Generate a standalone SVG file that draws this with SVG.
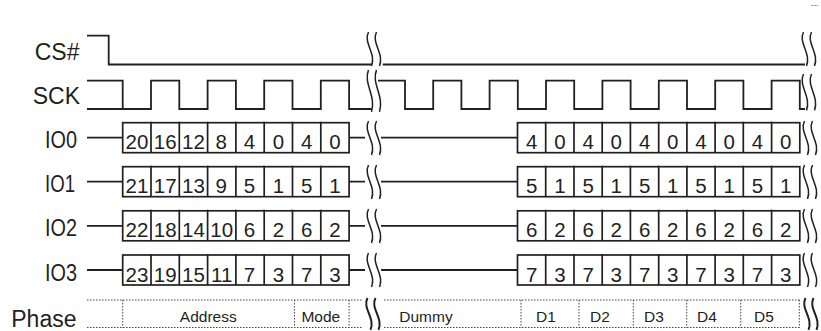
<svg xmlns="http://www.w3.org/2000/svg" xmlns:xlink="http://www.w3.org/1999/xlink" width="821" height="331" viewBox="0 0 821 331">
<style>
.lbl{font-family:"Liberation Sans",Arial,sans-serif;font-size:23px;fill:#231f20}
.dig{font-family:"Liberation Sans",Arial,sans-serif;font-size:20.5px;fill:#231f20;text-anchor:middle}
.ph{font-family:"Liberation Sans",Arial,sans-serif;font-size:15.5px;fill:#231f20;text-anchor:middle}
.w{fill:none;stroke:#231f20;stroke-width:1.8}
.box{fill:none;stroke:#231f20;stroke-width:1.7}
.dot{fill:none;stroke:#444;stroke-width:1;stroke-dasharray:1.5 1.5}
.brk{fill:none;stroke:#231f20;stroke-width:1.5}
.brkb{fill:none;stroke:#231f20;stroke-width:2}
</style>
<defs>
<g id="b">
<path d="M2.5,0 C-3,11 10.5,21 5.5,34"/>
<path d="M10.5,0 C5,11 18.5,21 13.5,34"/>
</g>
</defs>
<line x1="811.5" y1="5.5" x2="818.5" y2="5.5" stroke="#888" stroke-width="1" stroke-dasharray="2 1"/>

<g id="labels">
<text class="lbl" x="79.5" y="59.5" text-anchor="end">CS#</text>
<text class="lbl" x="80" y="104" text-anchor="end">SCK</text>
<text class="lbl" x="45" y="148" textLength="32" lengthAdjust="spacingAndGlyphs">IO0</text>
<text class="lbl" x="45" y="192" textLength="30" lengthAdjust="spacingAndGlyphs">IO1</text>
<text class="lbl" x="45" y="236.2" textLength="32" lengthAdjust="spacingAndGlyphs">IO2</text>
<text class="lbl" x="45" y="280.5" textLength="32" lengthAdjust="spacingAndGlyphs">IO3</text>
<text class="lbl" x="76.5" y="326.5" text-anchor="end">Phase</text>
</g>

<g id="cs">
<path class="w" d="M87,35.7 H108.7 V64.5 H371.7 M382.7,64.5 H805"/>
<g class="brk"><use xlink:href="#b" transform="translate(366,32)"/><use xlink:href="#b" transform="translate(801,32)"/></g>
</g>

<g id="sck">
<path class="w" d="M87,80.7 H122.7 V109 M87,109 H151 V80.7 H179.3 V109 H207.6 V80.7 H235.9 V109 H264.2 V80.7 H292.5 V109 H320.8 V80.7 H349.1 V109 H371.7"/>
<path class="w" d="M378,80.7 H405 V109 H433.2 V80.7 H461.4 V109 H489.6 V80.7 H517.8 V109 H546 V80.7 H574.2 V109 H602.4 V80.7 H630.6 V109 H658.8 V80.7 H687 V109 H715.2 V80.7 H743.4 V109 H771.6 V80.7 H799.8 V109 H805"/>
<g class="brk"><use xlink:href="#b" transform="translate(366,70) scale(1,1.23)"/><use xlink:href="#b" transform="translate(801,74) scale(1,1.07)"/></g>
</g>

<g id="io0">
<path class="w" d="M87,137.7 H122.7 M349.1,137.7 H365 M381,137.7 H517.5"/>
<rect class="box" x="122.7" y="122.7" width="226.4" height="30"/>
<path class="box" d="M151,121.7 V152.7 M179.3,121.7 V152.7 M207.6,121.7 V152.7 M235.9,121.7 V152.7 M264.2,121.7 V152.7 M292.5,121.7 V152.7 M320.8,121.7 V152.7"/>
<rect class="box" x="517.5" y="122.7" width="282.3" height="30"/>
<path class="box" d="M545.7,121.7 V152.7 M574,121.7 V152.7 M602.2,121.7 V152.7 M630.4,121.7 V152.7 M658.7,121.7 V152.7 M686.9,121.7 V152.7 M715.1,121.7 V152.7 M743.3,121.7 V152.7 M771.6,121.7 V152.7"/>
<g class="brk"><use xlink:href="#b" transform="translate(366,121)"/><use xlink:href="#b" transform="translate(802,121)"/></g>
<g>
<text class="dig" x="136.9" y="149.3">20</text><text class="dig" x="165.2" y="149.3">16</text><text class="dig" x="193.5" y="149.3">12</text><text class="dig" x="221.2" y="149.3">8</text><text class="dig" x="249.5" y="149.3">4</text><text class="dig" x="278.4" y="149.3">0</text><text class="dig" x="306.7" y="149.3">4</text><text class="dig" x="335" y="149.3">0</text>
<text class="dig" x="531.6" y="149.3">4</text><text class="dig" x="559.9" y="149.3">0</text><text class="dig" x="588.1" y="149.3">4</text><text class="dig" x="616.3" y="149.3">0</text><text class="dig" x="644.6" y="149.3">4</text><text class="dig" x="672.8" y="149.3">0</text><text class="dig" x="701" y="149.3">4</text><text class="dig" x="729.2" y="149.3">0</text><text class="dig" x="757.5" y="149.3">4</text><text class="dig" x="785.7" y="149.3">0</text>
</g>
</g>

<g id="io1">
<path class="w" d="M87,181.7 H122.7 M349.1,181.7 H365 M381,181.7 H517.5"/>
<rect class="box" x="122.7" y="166.7" width="226.4" height="30"/>
<path class="box" d="M151,165.7 V196.7 M179.3,165.7 V196.7 M207.6,165.7 V196.7 M235.9,165.7 V196.7 M264.2,165.7 V196.7 M292.5,165.7 V196.7 M320.8,165.7 V196.7"/>
<rect class="box" x="517.5" y="166.7" width="282.3" height="30"/>
<path class="box" d="M545.7,165.7 V196.7 M574,165.7 V196.7 M602.2,165.7 V196.7 M630.4,165.7 V196.7 M658.7,165.7 V196.7 M686.9,165.7 V196.7 M715.1,165.7 V196.7 M743.3,165.7 V196.7 M771.6,165.7 V196.7"/>
<g class="brk"><use xlink:href="#b" transform="translate(366,165)"/><use xlink:href="#b" transform="translate(802,165)"/></g>
<g>
<text class="dig" x="136.9" y="193.3">21</text><text class="dig" x="165.2" y="193.3">17</text><text class="dig" x="193.5" y="193.3">13</text><text class="dig" x="221.2" y="193.3">9</text><text class="dig" x="249.5" y="193.3">5</text><text class="dig" x="278.4" y="193.3">1</text><text class="dig" x="306.7" y="193.3">5</text><text class="dig" x="335" y="193.3">1</text>
<text class="dig" x="531.6" y="193.3">5</text><text class="dig" x="559.9" y="193.3">1</text><text class="dig" x="588.1" y="193.3">5</text><text class="dig" x="616.3" y="193.3">1</text><text class="dig" x="644.6" y="193.3">5</text><text class="dig" x="672.8" y="193.3">1</text><text class="dig" x="701" y="193.3">5</text><text class="dig" x="729.2" y="193.3">1</text><text class="dig" x="757.5" y="193.3">5</text><text class="dig" x="785.7" y="193.3">1</text>
</g>
</g>

<g id="io2">
<path class="w" d="M87,225.8 H122.7 M349.1,225.8 H365 M381,225.8 H517.5"/>
<rect class="box" x="122.7" y="210.8" width="226.4" height="30"/>
<path class="box" d="M151,209.8 V240.8 M179.3,209.8 V240.8 M207.6,209.8 V240.8 M235.9,209.8 V240.8 M264.2,209.8 V240.8 M292.5,209.8 V240.8 M320.8,209.8 V240.8"/>
<rect class="box" x="517.5" y="210.8" width="282.3" height="30"/>
<path class="box" d="M545.7,209.8 V240.8 M574,209.8 V240.8 M602.2,209.8 V240.8 M630.4,209.8 V240.8 M658.7,209.8 V240.8 M686.9,209.8 V240.8 M715.1,209.8 V240.8 M743.3,209.8 V240.8 M771.6,209.8 V240.8"/>
<g class="brk"><use xlink:href="#b" transform="translate(366,209)"/><use xlink:href="#b" transform="translate(802,209)"/></g>
<g>
<text class="dig" x="136.9" y="237.4">22</text><text class="dig" x="165.2" y="237.4">18</text><text class="dig" x="193.5" y="237.4">14</text><text class="dig" x="221.7" y="237.4">10</text><text class="dig" x="249.5" y="237.4">6</text><text class="dig" x="278.4" y="237.4">2</text><text class="dig" x="306.7" y="237.4">6</text><text class="dig" x="335" y="237.4">2</text>
<text class="dig" x="531.6" y="237.4">6</text><text class="dig" x="559.9" y="237.4">2</text><text class="dig" x="588.1" y="237.4">6</text><text class="dig" x="616.3" y="237.4">2</text><text class="dig" x="644.6" y="237.4">6</text><text class="dig" x="672.8" y="237.4">2</text><text class="dig" x="701" y="237.4">6</text><text class="dig" x="729.2" y="237.4">2</text><text class="dig" x="757.5" y="237.4">6</text><text class="dig" x="785.7" y="237.4">2</text>
</g>
</g>

<g id="io3">
<path class="w" d="M87,270 H122.7 M349.1,270 H365 M381,270 H517.5"/>
<rect class="box" x="122.7" y="255" width="226.4" height="30"/>
<path class="box" d="M151,254 V285 M179.3,254 V285 M207.6,254 V285 M235.9,254 V285 M264.2,254 V285 M292.5,254 V285 M320.8,254 V285"/>
<rect class="box" x="517.5" y="255" width="282.3" height="30"/>
<path class="box" d="M545.7,254 V285 M574,254 V285 M602.2,254 V285 M630.4,254 V285 M658.7,254 V285 M686.9,254 V285 M715.1,254 V285 M743.3,254 V285 M771.6,254 V285"/>
<g class="brk"><use xlink:href="#b" transform="translate(366,253)"/><use xlink:href="#b" transform="translate(802,253)"/></g>
<g>
<text class="dig" x="136.9" y="281.6">23</text><text class="dig" x="165.2" y="281.6">19</text><text class="dig" x="193.5" y="281.6">15</text><text class="dig" x="221.7" y="281.6">11</text><text class="dig" x="249.5" y="281.6">7</text><text class="dig" x="278.4" y="281.6">3</text><text class="dig" x="306.7" y="281.6">7</text><text class="dig" x="335" y="281.6">3</text>
<text class="dig" x="531.6" y="281.6">7</text><text class="dig" x="559.9" y="281.6">3</text><text class="dig" x="588.1" y="281.6">7</text><text class="dig" x="616.3" y="281.6">3</text><text class="dig" x="644.6" y="281.6">7</text><text class="dig" x="672.8" y="281.6">3</text><text class="dig" x="701" y="281.6">7</text><text class="dig" x="729.2" y="281.6">3</text><text class="dig" x="757.5" y="281.6">7</text><text class="dig" x="785.7" y="281.6">3</text>
</g>
</g>

<g id="phase">
<path class="dot" d="M87,300 H363 M384,300 H801 M87,327.5 H363 M384,327.5 H801"/>
<path class="dot" d="M122.7,300 V327.5 M294.5,300 V327.5 M349.1,300 V327.5 M521,300 V327.5 M579,300 V327.5 M633.3,300 V327.5 M686.7,300 V327.5 M740.7,300 V327.5 M799.3,300 V327.5"/>
<g class="brkb"><use xlink:href="#b" transform="translate(365,298) scale(1,0.94)"/><use xlink:href="#b" transform="translate(803,298) scale(1,0.94)"/></g>
<text class="ph" x="208.3" y="321.5">Address</text>
<text class="ph" x="320.8" y="321.5">Mode</text>
<text class="ph" x="426" y="321.5">Dummy</text>
<text class="ph" x="546" y="321.5">D1</text>
<text class="ph" x="600" y="321.5">D2</text>
<text class="ph" x="654" y="321.5">D3</text>
<text class="ph" x="707" y="321.5">D4</text>
<text class="ph" x="764" y="321.5">D5</text>
</g>
</svg>
